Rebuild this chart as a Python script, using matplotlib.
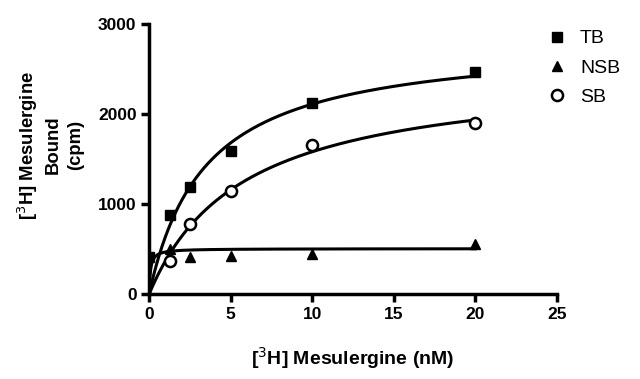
import numpy as np
import matplotlib
matplotlib.use("Agg")
import matplotlib.pyplot as plt

plt.rcParams["font.family"] = ["Liberation Sans", "DejaVu Sans"]

conc = [0, 1.25, 2.5, 5, 10, 20]
tb = [415, 880, 1190, 1590, 2120, 2470]
nsb_conc = [1.25, 2.5, 5, 10, 20]
nsb = [500, 410, 420, 450, 560]
sb_conc = [1.25, 2.5, 5, 10, 20]
sb = [370, 775, 1145, 1650, 1900]

# one-site hyperbola fit parameters (Bmax, Kd)
TB_FIT = (2837, 3.45)
NSB_FIT = (505, 0.08)
SB_FIT = (2489, 5.75)


def hyperbola(x, bmax, kd):
    return bmax * x / (kd + x)


fig = plt.figure(figsize=(6.4, 3.79), dpi=100)
ax = fig.add_axes([0.233, 0.224, 0.637, 0.713])

xs = np.linspace(0, 20, 400)
for p in (TB_FIT, NSB_FIT, SB_FIT):
    ax.plot(xs, hyperbola(xs, *p), color="black", lw=2.2, zorder=2)

ax.plot(conc, tb, "s", color="black", ms=7, label="TB", zorder=3)
ax.plot(nsb_conc, nsb, "^", color="black", ms=7, label="NSB", zorder=3)
ax.plot(sb_conc, sb, "o", mfc="white", mec="black", mew=1.8, ms=8, label="SB", zorder=3)

ax.set_xlim(0, 25)
ax.set_ylim(0, 3000)
ax.set_xticks([0, 5, 10, 15, 20, 25])
ax.set_yticks([0, 1000, 2000, 3000])
for s in ("top", "right"):
    ax.spines[s].set_visible(False)
for s in ("left", "bottom"):
    ax.spines[s].set_linewidth(2.5)
ax.tick_params(width=2.5, length=6, labelsize=12.5, pad=3)
for lab in ax.get_xticklabels() + ax.get_yticklabels():
    lab.set_fontweight("bold")

ax.set_xlabel("[$^3$H] Mesulergine (nM)", fontsize=14, fontweight="bold", labelpad=17)
fig.text(50 / 640, 1 - 145 / 379, "[$^3$H] Mesulergine\nBound\n(cpm)", fontsize=13.3,
         fontweight="bold", rotation=90, ha="center", va="center",
         multialignment="center", linespacing=1.42)

ax.legend(loc="upper left", bbox_to_anchor=(0.978, 0.978), frameon=False, fontsize=14,
          handletextpad=0.7, labelspacing=0.6, borderaxespad=0, borderpad=0,
          handlelength=0.95)

plt.savefig("out.png", dpi=100)
plt.close()
